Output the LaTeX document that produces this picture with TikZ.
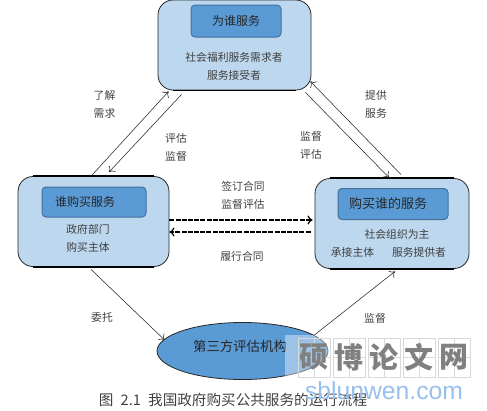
\documentclass[tikz,border=0pt]{standalone}
\usepackage{fontspec}
\newfontfamily\cjk{Noto Sans CJK SC}
\newfontfamily\marklatin{Liberation Sans}
\usetikzlibrary{shapes.geometric, arrows.meta}
\definecolor{boxblue}{RGB}{189,215,238}
\definecolor{headblue}{RGB}{91,155,213}
\definecolor{headedge}{RGB}{65,113,156}
\definecolor{markblue}{RGB}{150,192,238}
\tikzset{
	panel/.style={draw=black!85, line width=0.8pt, fill=boxblue, rounded corners=15pt, minimum width=#1, minimum height=90pt, inner sep=0pt},
	head/.style={draw=headedge, line width=1pt, fill=headblue, rounded corners=4pt, inner sep=0pt, text=black!85},
	lbl/.style={font=\cjk\fontsize{10.8}{18}\selectfont, text=black!75, align=center, inner sep=0pt},
	link/.style={->, draw=black!85, line width=0.55pt},
	dashlink/.style={->, draw=black, line width=1.2pt, dash pattern=on 5pt off 1.2pt}
}
\begin{document}
\begin{tikzpicture}[x=1pt, y=-1pt, >={To[length=5pt,width=9pt]}]
	\useasboundingbox (0,0) rectangle (487,410);
	% main boxes
	\node[panel=153pt] (whom) at (234.5,45) {};
	\node[panel=151pt] (gov) at (93.5,221.5) {};
	\node[panel=154pt] (org) at (392,223.5) {};
	\foreach \n in {whom,gov,org} {
		\draw[line width=1.6pt] ([xshift=15pt]\n.north west) -- ([xshift=-15pt]\n.north east);
		\draw[line width=1.6pt] ([xshift=15pt]\n.south west) -- ([xshift=-15pt]\n.south east);
	}
	\node[ellipse, draw=black!85, line width=0.8pt, fill=headblue, minimum width=171pt, minimum height=57pt, inner sep=0pt] (third) at (242.5,351) {};
	% heads
	\node[head, minimum width=90pt, minimum height=32pt, font=\cjk\fontsize{12}{12}\selectfont] (whomhead) at (236,21) {为谁服务};
	\node[head, minimum width=104pt, minimum height=30pt, font=\cjk\fontsize{12}{12}\selectfont] (govhead) at (94,202) {\hspace*{-9pt}谁购买服务\hspace*{9pt}};
	\node[head, minimum width=110pt, minimum height=31pt, font=\cjk\fontsize{13}{13}\selectfont] (orghead) at (393,204) {\hspace*{-5pt}购买谁的服务\hspace*{5pt}};
	% texts in the boxes
	\node[lbl] (whomtext) at (234,66) {社会福利服务需求者\\服务接受者};
	\node[lbl] (govtext) at (88,238) {政府部门\\购买主体};
	\node[lbl] (orgtop) at (397,234) {社会组织为主};
	\node[lbl] (orgleft) at (352.5,252) {承接主体};
	\node[lbl] (orgright) at (419,252) {服务提供者};
	\node[font=\cjk\fontsize{13.4}{13}\selectfont, text=black!85, inner sep=0pt] (thirdtext) at (240,346) {第三方评估机构};
	% connectors
	\draw[link] ([shift={(-1.5,-1)}]gov.north) -- ([shift={(11,1)}]whom.south west);
	\draw[link] ([shift={(24,4)}]whom.south west) -- ([shift={(15.5,-4)}]gov.north);
	\draw[link] ([shift={(-6,2)}]whom.south east) -- ([shift={(-3,-0.5)}]org.north);
	\draw[link] ([shift={(9,-3.5)}]org.north) -- ([shift={(-1,-9)}]whom.south east);
	\draw[dashlink] ([shift={(0,-1.5)}]gov.east) -- ([shift={(-2,-3.5)}]org.west);
	\draw[dashlink] ([shift={(-4,8.5)}]org.west) -- ([shift={(0,10.5)}]gov.east);
	\draw[link] ([shift={(-2.5,2.5)}]gov.south) -- ([shift={(8,-11)}]third.west);
	\draw[link] ([shift={(-14,-16)}]third.east) -- ([shift={(3,2.5)}]org.south);
	% link labels
	\node[lbl] (needlbl) at (104.5,104) {了解\\需求};
	\node[lbl] (evallbl) at (176,147) {评估\\监督};
	\node[lbl] (servlbl) at (376,104) {提供\\服务};
	\node[lbl] (suplbl) at (311,145) {监督\\评估};
	\node[lbl] (signlbl) at (243,195) {签订合同\\监督评估};
	\node[lbl] (dolbl) at (242,256) {履行合同};
	\node[lbl] (entrustlbl) at (102,317) {委托};
	\node[lbl] (watchlbl) at (375,318) {监督};
	% caption
	\node[font=\cjk\fontsize{14.6}{14}\selectfont, text=black!75, inner sep=0pt] (caption) at (233,400) {图\hspace{4pt} 2.1\hspace{4pt} 我国政府购买公共服务的运行流程};
	% site mark
	\fill[white, opacity=0.4] (285,335) rectangle (330,376);
	\foreach \i/\ch in {0/硕,1/博,2/论,3/文,4/网} {
		\draw[black!15, line width=0.7pt] (298+\i*35,338) rectangle ++(32,39);
		\draw[black!15, line width=0.5pt] (314+\i*35,338) -- ++(0,39) (298+\i*35,357.5) -- ++(32,0);
		\node[font=\cjk\bfseries\fontsize{29}{29}\selectfont, text=black!50, inner sep=0pt] (mark\i) at (314+\i*35,357) {\ch};
	}
	\node[font=\marklatin\fontsize{24.7}{25}\selectfont, text=markblue, inner sep=0pt] (markurl) at (384,391) {sblunwen.com};
\end{tikzpicture}
\end{document}
